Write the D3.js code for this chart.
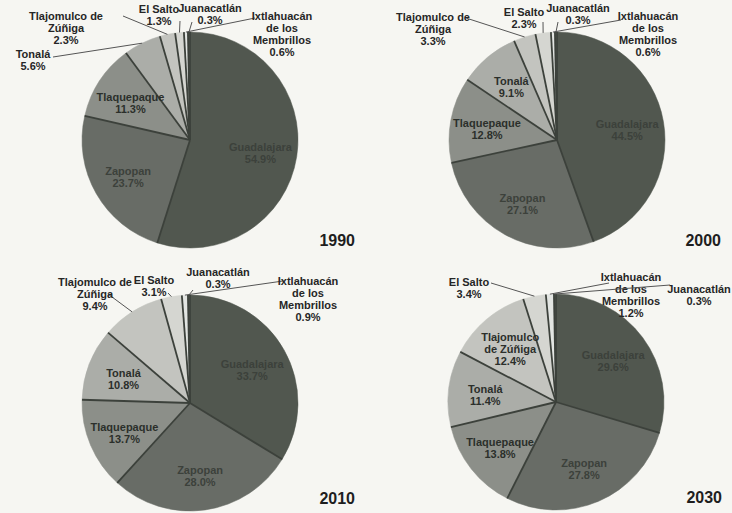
<!DOCTYPE html>
<html>
<head>
<meta charset="utf-8">
<script src="https://cdn.jsdelivr.net/npm/d3@7"></script>
<style>
  html, body { margin: 0; padding: 0; background: #f6f6f2; }
  svg { display: block; font-family: "Liberation Sans", Arial, sans-serif; font-weight: bold; }
</style>
</head>
<body>
<div id="chart"></div>
<script>
// Municipalities of the metro area, in slice order (clockwise from 12 o'clock)
const municipios = ['Guadalajara', 'Zapopan', 'Tlaquepaque', 'Tonalá',
    'Tlajomulco de Zúñiga', 'El Salto', 'Ixtlahuacán de los Membrillos', 'Juanacatlán'];
const years = ['1990', '2000', '2010', '2030'];

// percentage of metro population, same order as municipios
const shares1990 = [54.9, 23.7, 11.3, 5.6, 2.3, 1.3, 0.6, 0.3];
const shares2000 = [44.5, 27.1, 12.8, 9.1, 3.3, 2.3, 0.6, 0.3];
const shares2010 = [33.7, 28.0, 13.7, 10.8, 9.4, 3.1, 0.9, 0.3];
const shares2030 = [29.6, 27.8, 13.8, 11.4, 12.4, 3.4, 1.2, 0.3];
const sharesByYear = [shares1990, shares2000, shares2010, shares2030];

const sliceColors = ['#51574f', '#686c66', '#8c8f89', '#abada8', '#c3c4bf', '#d5d6d1', '#e2e5e2', '#7d817a'];

// label texts (the wrapped name lines), shown inside or outside the pie
const insideLines = {
    'Guadalajara': ['Guadalajara'], 'Zapopan': ['Zapopan'], 'Tlaquepaque': ['Tlaquepaque'],
    'Tonalá': ['Tonalá'], 'Tlajomulco de Zúñiga': ['Tlajomulco', 'de Zúñiga']
};
const outsideLines = {
    'Tonalá': ['Tonalá'], 'Tlajomulco de Zúñiga': ['Tlajomulco de', 'Zúñiga'], 'El Salto': ['El Salto'],
    'Juanacatlán': ['Juanacatlán'], 'Ixtlahuacán de los Membrillos': ['Ixtlahuacán', 'de los', 'Membrillos']
};

// layout of each panel: pie centre, outside label placement (relative to centre)
const panels = [
    {cx: 190, cy: 140, year: [165, 106], outside: [
        {name: 'Tonalá', at: [-157, -82], from: [-137, -83]},
        {name: 'Tlajomulco de Zúñiga', at: [-124, -120], from: [-67, -124]},
        {name: 'El Salto', at: [-31, -127], from: [-10, -119]},
        {name: 'Juanacatlán', at: [20, -128], from: [2, -118]},
        {name: 'Ixtlahuacán de los Membrillos', at: [92, -120], from: [65, -122]}
    ]},
    {cx: 557, cy: 140, year: [164, 106], outside: [
        {name: 'Tlajomulco de Zúñiga', at: [-124, -119], from: [-91, -122]},
        {name: 'El Salto', at: [-33, -124], from: [-14, -118]},
        {name: 'Juanacatlán', at: [21, -128], from: [1, -118]},
        {name: 'Ixtlahuacán de los Membrillos', at: [91, -120], from: [64, -120]}
    ]},
    {cx: 190, cy: 403, year: [165, 101], outside: [
        {name: 'Tlajomulco de Zúñiga', at: [-95, -117], from: [-82, -109]},
        {name: 'El Salto', at: [-36, -119], from: [-22, -110]},
        {name: 'Juanacatlán', at: [28, -127], from: [3, -113]},
        {name: 'Ixtlahuacán de los Membrillos', at: [118, -118], from: [93, -122]}
    ]},
    {cx: 556, cy: 402, year: [166, 101], outside: [
        {name: 'El Salto', at: [-87, -116], from: [-65, -119]},
        {name: 'Ixtlahuacán de los Membrillos', at: [75, -121], from: [53, -119]},
        {name: 'Juanacatlán', at: [143, -109], from: [114, -117]}
    ]}
];

const width = 732, height = 513, radius = 108, lineH = 12;

const svg = d3.select('#chart').append('svg')
    .attr('width', width)
    .attr('height', height);

svg.append('rect').attr('width', width).attr('height', height).attr('fill', '#f6f6f2');

const color = d3.scaleOrdinal().domain(municipios).range(sliceColors);
const pie = d3.pie().sort(null).value(d => d.value);
const arc = d3.arc().innerRadius(0).outerRadius(radius);
const labelArc = d3.arc().innerRadius(radius * 0.66).outerRadius(radius * 0.66);
const fmt = d3.format('.1f');

function writeLines(sel, lines, x, y, fill) {
    const t = sel.append('text')
        .attr('text-anchor', 'middle')
        .attr('font-size', 11)
        .attr('fill', fill);
    lines.forEach((s, k) => {
        t.append('tspan').attr('x', x).attr('y', y + k * lineH).text(s);
    });
}

panels.forEach((p, pi) => {
    const data = municipios.map((m, i) => ({name: m, value: sharesByYear[pi][i]}));
    const arcs = pie(data);
    const byName = new Map(arcs.map(a => [a.data.name, a]));
    const g = svg.append('g').attr('transform', `translate(${p.cx},${p.cy})`);

    g.selectAll('path.slice')
        .data(arcs)
        .enter()
        .append('path')
        .attr('class', 'slice')
        .attr('d', arc)
        .attr('fill', d => color(d.data.name))
        .attr('stroke', d => color(d.data.name))
        .attr('stroke-width', 0.5);

    // dark separators between slices
    g.selectAll('line.sep')
        .data(arcs)
        .enter()
        .append('line')
        .attr('class', 'sep')
        .attr('x1', 0).attr('y1', 0)
        .attr('x2', d => radius * Math.sin(d.startAngle))
        .attr('y2', d => -radius * Math.cos(d.startAngle))
        .attr('stroke', '#3c413b')
        .attr('stroke-width', 1.8);

    // labels inside the slices
    arcs.filter(a => insideLines[a.data.name] && !p.outside.some(o => o.name === a.data.name))
        .forEach(a => {
            const [x, y] = labelArc.centroid(a);
            const lines = insideLines[a.data.name].concat([fmt(a.data.value) + '%']);
            const dark = a.index < 2;
            writeLines(g, lines, x, y - (lines.length - 1) * lineH / 2 + 6, dark ? '#3c413b' : '#2b2f2b');
        });

    // labels outside with leader lines to the slice edge
    p.outside.forEach(o => {
        const a = byName.get(o.name);
        const mid = (a.startAngle + a.endAngle) / 2;
        g.append('line')
            .attr('x1', o.from[0]).attr('y1', o.from[1])
            .attr('x2', radius * Math.sin(mid))
            .attr('y2', -radius * Math.cos(mid))
            .attr('stroke', '#555')
            .attr('stroke-width', 1);
        writeLines(g, outsideLines[o.name].concat([fmt(a.data.value) + '%']), o.at[0], o.at[1], '#262626');
    });

    g.append('text')
        .attr('x', p.year[0])
        .attr('y', p.year[1])
        .attr('text-anchor', 'end')
        .attr('font-size', 16)
        .attr('fill', '#1e1e1e')
        .text(years[pi]);
});
</script>
</body>
</html>
